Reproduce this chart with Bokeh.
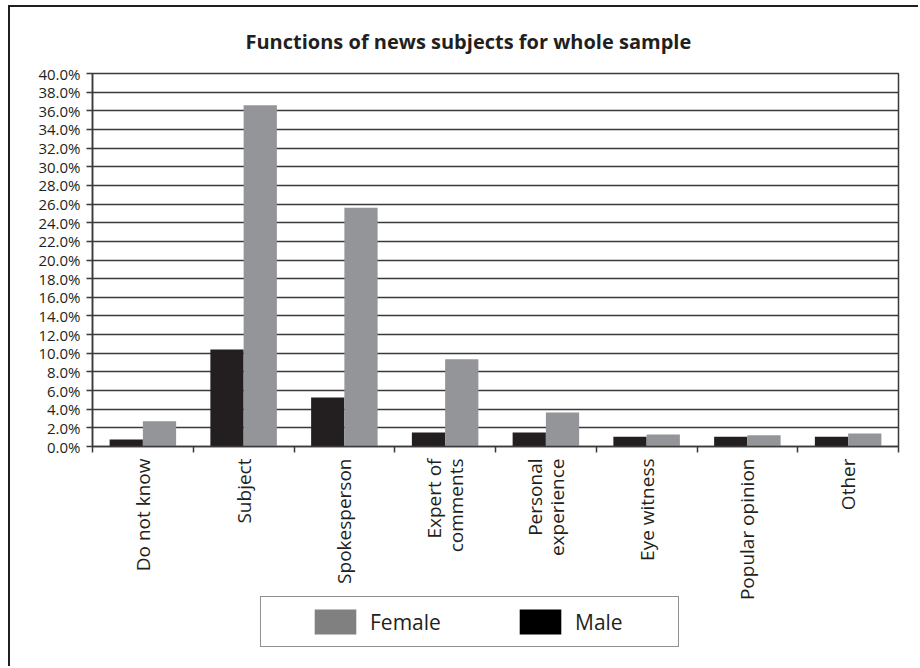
import math
from bokeh.plotting import figure
from bokeh.layouts import column
from bokeh.models import (ColumnDataSource, FixedTicker, PrintfTickFormatter,
                          Legend, LegendItem, Range1d)
from bokeh.embed import file_html
from bokeh.resources import INLINE

# ---- data ----
categories = ["Do not know", "Subject", "Spokesperson", "Expert of\ncomments",
              "Personal\nexperience", "Eye witness", "Popular opinion", "Other"]
male = [0.75, 10.4, 5.25, 1.5, 1.5, 1.05, 1.05, 1.05]
female = [2.7, 36.6, 25.6, 9.35, 3.65, 1.3, 1.2, 1.4]
y_ticks = [0, 2, 4, 6, 8, 10, 12, 14, 16, 18, 20, 22, 24, 26, 28, 30, 32, 34, 36, 38, 40]
title_text = "Functions of news subjects for whole sample"
series_names = ["Female", "Male"]

INK = "#231f20"
GRID = "#3a3a3a"
MALE_C = "#231f20"
FEMALE_C = "#939598"
LEG_FEMALE = "#808080"
LEG_MALE = "#000000"

n = len(categories)
centers = [i + 0.5 for i in range(n)]
bar_w = 0.33
src = ColumnDataSource(dict(
    xm=[c - bar_w / 2 for c in centers],
    xf=[c + bar_w / 2 for c in centers],
    male=male, female=female))

W = 908
p = figure(width=W, height=601, output_backend="svg", toolbar_location=None,
           x_range=Range1d(0, n), y_range=Range1d(0, 40),
           min_border_left=82, min_border_top=66, min_border_right=20,
           min_border_bottom=162, title=title_text)

p.title.text_font = "Open Sans"
p.title.text_font_size = "20px"
p.title.text_font_style = "bold"
p.title.text_color = INK
p.title.align = "left"
p.title.offset = 153
p.title.standoff = 37

p.vbar(x="xm", top="male", width=bar_w, source=src, fill_color=MALE_C, line_color=None)
p.vbar(x="xf", top="female", width=bar_w, source=src, fill_color=FEMALE_C, line_color=None)

# y axis
p.yaxis.ticker = FixedTicker(ticks=y_ticks)
p.yaxis.formatter = PrintfTickFormatter(format="%.1f%%")
p.yaxis.major_label_text_font = "Open Sans"
p.yaxis.major_label_text_font_size = "15px"
p.yaxis.major_label_text_color = INK
p.yaxis.major_tick_out = 6
p.yaxis.major_tick_in = 0
p.yaxis.minor_tick_line_color = None
p.yaxis.axis_line_color = GRID
p.yaxis.axis_line_width = 1.5
p.yaxis.major_tick_line_color = GRID
p.yaxis.major_tick_line_width = 1.5
p.yaxis.major_label_standoff = 6

# x axis
p.xaxis.ticker = FixedTicker(ticks=centers, minor_ticks=list(range(n + 1)))
p.xaxis.major_label_overrides = {c: lab for c, lab in zip(centers, categories)}
p.xaxis.major_label_orientation = math.pi / 2
p.xaxis.major_label_text_font = "Open Sans"
p.xaxis.major_label_text_font_size = "19px"
p.xaxis.major_label_text_line_height = 0.82
p.xaxis.major_label_text_color = INK
p.xaxis.major_tick_line_color = None
p.xaxis.major_tick_out = 0
p.xaxis.major_tick_in = 0
p.xaxis.minor_tick_out = 6
p.xaxis.minor_tick_in = 0
p.xaxis.minor_tick_line_color = GRID
p.xaxis.minor_tick_line_width = 1.5
p.xaxis.axis_line_color = GRID
p.xaxis.axis_line_width = 1.5
p.xaxis.major_label_standoff = 6

p.xgrid.grid_line_color = None
p.ygrid.grid_line_color = GRID
p.ygrid.grid_line_width = 1.5
p.outline_line_color = GRID
p.outline_line_width = 1.5
p.background_fill_color = "white"
p.border_fill_color = "white"

# ---- legend strip (separate figure so the legend is not clipped) ----
lg = figure(width=W, height=70, output_backend="svg", toolbar_location=None,
            x_range=Range1d(0, 1), y_range=Range1d(0, 1),
            min_border=0, min_border_left=0, min_border_right=0,
            min_border_top=0, min_border_bottom=0,
            styles={"margin-top": "-12px"})
lg.axis.visible = False
lg.grid.visible = False
lg.outline_line_color = None
lg.background_fill_alpha = 0
lg.border_fill_alpha = 0
swatch = ColumnDataSource(dict(x=[0], top=[0]))
lf = lg.vbar(x="x", top="top", width=0, source=swatch, fill_color=LEG_FEMALE, line_color=None)
lm = lg.vbar(x="x", top="top", width=0, source=swatch, fill_color=LEG_MALE, line_color=None)
legend = Legend(items=[LegendItem(label=series_names[0], renderers=[lf]),
                       LegendItem(label=series_names[1], renderers=[lm])],
                orientation="horizontal", location=(168, 19), margin=0,
                glyph_width=52, glyph_height=31, label_standoff=9,
                label_width=94, spacing=50, padding=9,
                label_text_font="Open Sans", label_text_font_size="21px",
                label_text_color=INK, label_text_baseline="hanging",
                title=" ", title_location="left", title_text_font_size="10px",
                title_standoff=28,
                border_line_color=INK, border_line_width=1.8,
                background_fill_color="white", background_fill_alpha=1)
lg.add_layout(legend, "center")

page = column(p, lg, spacing=0,
              styles={"margin-left": "8px", "margin-top": "5px",
                      "border-left": "2px solid #231f20",
                      "border-top": "2px solid #231f20"})

open("out.html", "w").write(file_html(page, INLINE))
